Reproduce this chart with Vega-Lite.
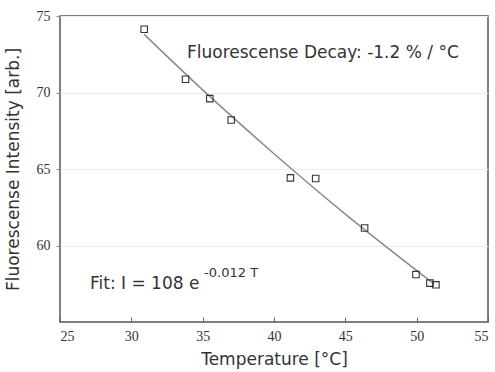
{
  "$schema": "https://vega.github.io/schema/vega-lite/v6.json",
  "width": 428,
  "height": 306,
  "autosize": "none",
  "padding": {"left": 60, "top": 16, "right": 7, "bottom": 50},
  "background": "white",
  "config": {
    "view": {"stroke": "#555", "strokeWidth": 1.5},
    "font": "DejaVu Sans"
  },
  "datasets": {
    "pts": [
      {"T": 30.9, "I": 74.13},
      {"T": 33.8, "I": 70.87},
      {"T": 35.5, "I": 69.6},
      {"T": 37.0, "I": 68.2},
      {"T": 41.15, "I": 64.42},
      {"T": 42.92, "I": 64.38},
      {"T": 46.35, "I": 61.14},
      {"T": 49.95, "I": 58.1},
      {"T": 50.93, "I": 57.54},
      {"T": 51.35, "I": 57.43}
    ],
    "fit": [
      {"T": 30.9, "I": 73.8},
      {"T": 35.0, "I": 70.17},
      {"T": 40.0, "I": 66.0},
      {"T": 45.0, "I": 62.05},
      {"T": 51.2, "I": 57.5}
    ],
    "labels": [
      {"T": 33.9, "I": 72.57, "text": "Fluorescense Decay: -1.2 % / °C", "kind": "main"},
      {"T": 27.1, "I": 57.5, "text": "Fit: I = 108 e", "kind": "main"},
      {"T": 35.1, "I": 58.2, "text": "-0.012 T", "kind": "sup"}
    ]
  },
  "layer": [
    {
      "data": {"name": "fit"},
      "mark": {"type": "line", "color": "#8a8a8a", "strokeWidth": 1.5, "interpolate": "monotone"},
      "encoding": {
        "x": {
          "field": "T", "type": "quantitative",
          "scale": {"domain": [25, 55], "nice": false},
          "axis": {
            "title": "Temperature [°C]",
            "values": [25, 30, 35, 40, 45, 50, 55],
            "grid": false,
            "domain": false,
            "tickSize": -5,
            "tickColor": "#666",
            "labelFont": "Liberation Sans Narrow",
            "labelFontSize": 14,
            "labelColor": "#333",
            "labelPadding": 12,
            "titleFont": "DejaVu Sans",
            "titleFontSize": 17,
            "titleFontWeight": "normal",
            "titleColor": "#333",
            "titlePadding": 8
          }
        },
        "y": {
          "field": "I", "type": "quantitative",
          "scale": {"domain": [55, 75], "nice": false},
          "axis": {
            "title": "Fluorescense Intensity [arb.]",
            "values": [60, 65, 70, 75],
            "grid": true,
            "gridColor": "#ececec",
            "domain": false,
            "tickSize": 4,
            "tickColor": "#888",
            "labelFont": "Liberation Sans Narrow",
            "labelFontSize": 14,
            "labelColor": "#333",
            "labelPadding": 6,
            "titleFont": "DejaVu Sans",
            "titleFontSize": 17,
            "titleFontWeight": "normal",
            "titleColor": "#333",
            "titlePadding": 14
          }
        }
      }
    },
    {
      "data": {"name": "pts"},
      "mark": {"type": "point", "shape": "square", "filled": false, "stroke": "#333", "strokeWidth": 1.1, "size": 42, "opacity": 1},
      "encoding": {
        "x": {"field": "T", "type": "quantitative"},
        "y": {"field": "I", "type": "quantitative"}
      }
    },
    {
      "data": {"name": "labels"},
      "transform": [{"filter": "datum.kind == 'main'"}],
      "mark": {"type": "text", "align": "left", "baseline": "middle", "fontSize": 17, "color": "#333", "font": "DejaVu Sans"},
      "encoding": {
        "x": {"field": "T", "type": "quantitative"},
        "y": {"field": "I", "type": "quantitative"},
        "text": {"field": "text"}
      }
    },
    {
      "data": {"name": "labels"},
      "transform": [{"filter": "datum.kind == 'sup'"}],
      "mark": {"type": "text", "align": "left", "baseline": "middle", "fontSize": 13, "color": "#333", "font": "DejaVu Sans"},
      "encoding": {
        "x": {"field": "T", "type": "quantitative"},
        "y": {"field": "I", "type": "quantitative"},
        "text": {"field": "text"}
      }
    }
  ]
}
